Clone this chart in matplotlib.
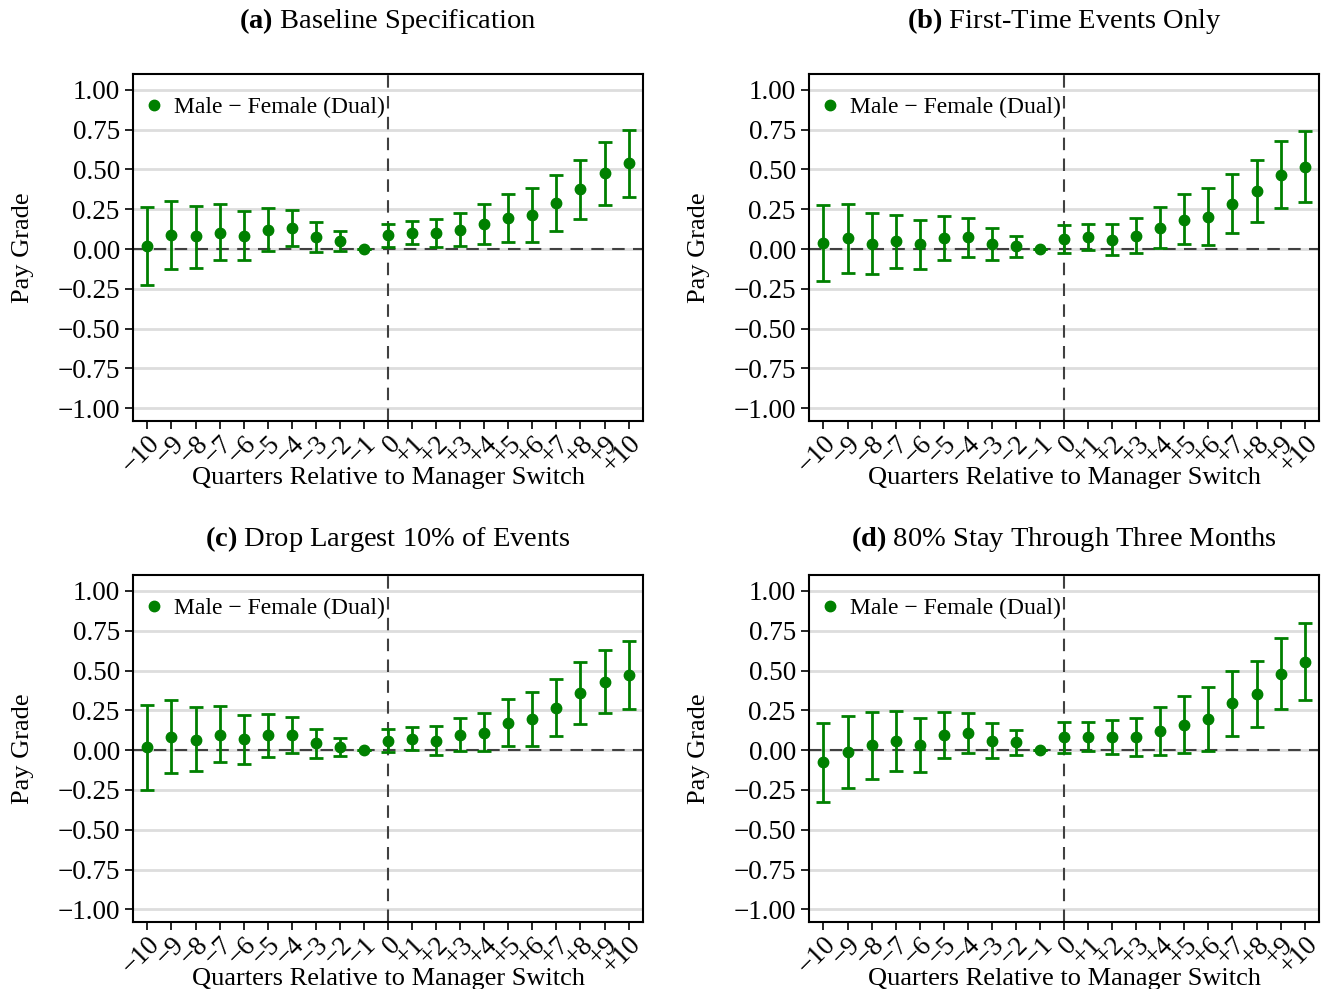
import numpy as np
import matplotlib
matplotlib.use("Agg")
import matplotlib.pyplot as plt
from matplotlib.lines import Line2D

plt.rcParams['font.family'] = ['Liberation Serif', 'DejaVu Serif']
plt.rcParams['mathtext.fontset'] = 'custom'
plt.rcParams['mathtext.rm'] = 'Liberation Serif'
plt.rcParams['mathtext.bf'] = 'Liberation Serif:bold'
plt.rcParams['axes.unicode_minus'] = True

# quarters relative to the switch
quarters = list(range(-10, 11))
tick_labels = ["\u221210", "\u22129", "\u22128", "\u22127", "\u22126", "\u22125", "\u22124",
               "\u22123", "\u22122", "\u22121", "0", "+1", "+2", "+3", "+4", "+5", "+6",
               "+7", "+8", "+9", "+10"]

titles = ["(a)", "(b)", "(c)", "(d)"]
subtitles = ["Baseline Specification", "First-Time Events Only",
             "Drop Largest 10% of Events", "80% Stay Through Three Months"]

# (a) baseline
est_a = [0.02, 0.09, 0.08, 0.10, 0.085, 0.12, 0.13, 0.075, 0.05, 0.0, 0.088,
         0.10, 0.098, 0.12, 0.16, 0.198, 0.212, 0.29, 0.377, 0.475, 0.54]
lo_a = [-0.226, -0.127, -0.117, -0.071, -0.071, -0.01, 0.019, -0.021, -0.01, 0.0, 0.015,
        0.03, 0.01, 0.02, 0.035, 0.046, 0.042, 0.115, 0.19, 0.28, 0.327]
hi_a = [0.265, 0.30, 0.273, 0.281, 0.238, 0.256, 0.244, 0.169, 0.115, 0.0, 0.16,
        0.175, 0.19, 0.225, 0.283, 0.346, 0.385, 0.465, 0.5625, 0.675, 0.75]

# (b) first-time events
est_b = [0.0375, 0.067, 0.033, 0.048, 0.031, 0.069, 0.075, 0.031, 0.017, 0.0, 0.062,
         0.079, 0.06, 0.085, 0.135, 0.185, 0.204, 0.285, 0.367, 0.467, 0.517]
lo_b = [-0.20, -0.148, -0.158, -0.119, -0.123, -0.071, -0.048, -0.069, -0.052, 0.0, -0.025,
        -0.004, -0.035, -0.027, 0.004, 0.029, 0.025, 0.102, 0.169, 0.256, 0.294]
hi_b = [0.277, 0.281, 0.229, 0.215, 0.183, 0.206, 0.196, 0.131, 0.085, 0.0, 0.15,
        0.158, 0.156, 0.194, 0.265, 0.344, 0.383, 0.469, 0.5625, 0.679, 0.74]

# (c) drop largest 10%
est_c = [0.021, 0.083, 0.065, 0.098, 0.067, 0.092, 0.096, 0.042, 0.021, 0.0, 0.058,
         0.071, 0.058, 0.098, 0.11, 0.171, 0.196, 0.267, 0.358, 0.431, 0.471]
lo_c = [-0.25, -0.146, -0.133, -0.077, -0.0875, -0.044, -0.017, -0.05, -0.0375, 0.0, -0.0125,
        0.0, -0.029, -0.008, -0.008, 0.025, 0.025, 0.0875, 0.165, 0.231, 0.256]
hi_c = [0.285, 0.315, 0.269, 0.275, 0.223, 0.225, 0.21, 0.135, 0.075, 0.0, 0.131,
        0.146, 0.15, 0.20, 0.231, 0.319, 0.3625, 0.446, 0.556, 0.631, 0.683]

# (d) 80% stay through three months
est_d = [-0.077, -0.01, 0.029, 0.056, 0.031, 0.096, 0.106, 0.058, 0.05, 0.0, 0.081,
         0.083, 0.083, 0.085, 0.119, 0.16, 0.194, 0.294, 0.354, 0.481, 0.556]
lo_d = [-0.327, -0.24, -0.183, -0.129, -0.14, -0.052, -0.021, -0.048, -0.029, 0.0, -0.021,
        -0.008, -0.025, -0.0375, -0.029, -0.019, -0.004, 0.09, 0.148, 0.258, 0.315]
hi_d = [0.173, 0.217, 0.242, 0.248, 0.204, 0.242, 0.233, 0.169, 0.129, 0.0, 0.179,
        0.175, 0.1875, 0.204, 0.269, 0.342, 0.394, 0.50, 0.5625, 0.706, 0.796]

panels = [(est_a, lo_a, hi_a), (est_b, lo_b, hi_b), (est_c, lo_c, hi_c), (est_d, lo_d, hi_d)]
yticks = [1.0, 0.75, 0.5, 0.25, 0.0, -0.25, -0.5, -0.75, -1.0]

green = "#008000"

fig = plt.figure(figsize=(13.22, 9.89), dpi=100)
lefts = [0.1006, 0.612, 0.1006, 0.612]
bottoms = [0.5743, 0.5743, 0.0677, 0.0677]
title_pads = [33, 33, 21, 21]

for i, (est, lo, hi) in enumerate(panels):
    ax = fig.add_axes([lefts[i], bottoms[i], 0.3858, 0.3509])
    est = np.array(est)
    err = np.vstack([est - np.array(lo), np.array(hi) - est])

    for y in yticks:
        ax.axhline(y, color="#dddddd", lw=2, zorder=0)
    ax.axhline(0, color="#404040", lw=1.5, ls=(0, (6, 4)), zorder=1)
    ax.axvline(0, color="#404040", lw=1.5, ls=(0, (6, 4)), zorder=1)

    ax.errorbar(quarters, est, yerr=err, fmt="o", color=green, ms=7.5,
                elinewidth=2, capsize=5, capthick=2, zorder=3)

    ax.set_xlim(-10.6, 10.6)
    ax.set_ylim(-1.08, 1.10)
    ax.set_yticks(yticks)
    ax.set_yticklabels(["%.2f" % v if v >= 0 else "\u2212%.2f" % -v for v in yticks])
    ax.set_xticks(quarters)
    ax.set_xticklabels(tick_labels, rotation=45, ha="right", rotation_mode="anchor")
    ax.tick_params(axis="both", labelsize=19.5, length=6, width=1.2, direction="out")
    ax.tick_params(axis="x", pad=1)

    for sp in ax.spines.values():
        sp.set_linewidth(1.5)

    ax.set_ylabel("Pay Grade", fontsize=19, labelpad=17)
    ax.set_xlabel("Quarters Relative to Manager Switch", fontsize=19, labelpad=-8)
    ax.set_title(r"$\mathbf{%s}$ %s" % (titles[i], subtitles[i]), fontsize=20.5,
                 pad=title_pads[i])

    handle = Line2D([], [], marker="o", ls="none", color=green, ms=7.5)
    ax.legend([handle], ["Male \u2212 Female (Dual)"], loc="upper left",
              bbox_to_anchor=(0, 0.963), frameon=False, fontsize=17,
              handlelength=1.0, handletextpad=0.35, borderaxespad=0)

fig.savefig("out.png", dpi=100)
